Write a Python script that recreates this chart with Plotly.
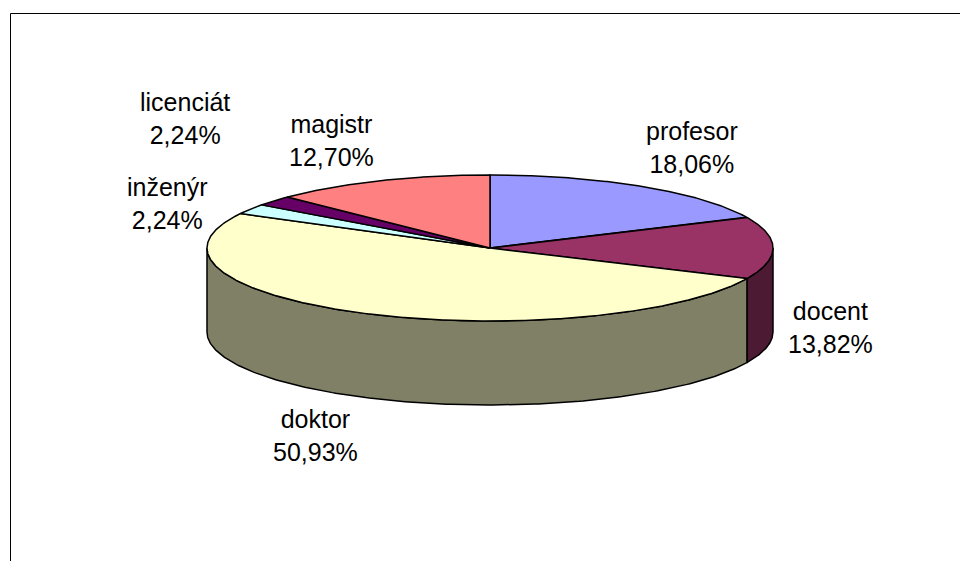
import numpy as np
import plotly.graph_objects as go

# ---- data ----
categories = ["profesor", "docent", "doktor", "inženýr", "licenciát", "magistr"]
values = [18.06, 13.82, 50.93, 2.24, 2.24, 12.70]
top_colors = ["#9999FF", "#993366", "#FFFFCC", "#CCFFFF", "#660066", "#FF8080"]
side_colors = ["#4D4D80", "#4D1A33", "#808066", "#668080", "#330033", "#804040"]

# label anchor positions (layout, pixel space)
label_x = [692, 830, 315, 167, 185, 331]
label_y = [147, 327, 435, 203, 118.5, 140]

# ---- geometry (pixel-like axes) ----
W, H = 960, 561
cx, cy, rx, ry, depth = 490, 248, 283, 73, 84


def pt(theta_deg, dy=0.0):
    t = np.radians(theta_deg)
    return cx + rx * np.sin(t), cy - ry * np.cos(t) + dy


fig = go.Figure()
total = sum(values)
angles = np.cumsum([0] + [v / total * 360 for v in values])

# side faces (front half: 90..270 deg)
for i in range(len(values)):
    a1, a2 = angles[i], angles[i + 1]
    s1, s2 = max(a1, 90), min(a2, 270)
    if s2 <= s1:
        continue
    th = np.linspace(s1, s2, 200)
    xt, yt = pt(th)
    xb, yb = pt(th[::-1], depth)
    xs = np.concatenate([xt, xb, xt[:1]])
    ys = np.concatenate([yt, yb, yt[:1]])
    fig.add_trace(go.Scatter(x=xs, y=ys, mode="lines", fill="toself",
                             fillcolor=side_colors[i],
                             line=dict(color="black", width=1.5),
                             hoverinfo="skip", showlegend=False))

# top faces
for i in range(len(values)):
    a1, a2 = angles[i], angles[i + 1]
    th = np.linspace(a1, a2, max(int((a2 - a1) * 3), 4))
    xa, ya = pt(th)
    xs = np.concatenate([[cx], xa, [cx]])
    ys = np.concatenate([[cy], ya, [cy]])
    fig.add_trace(go.Scatter(x=xs, y=ys, mode="lines", fill="toself",
                             fillcolor=top_colors[i],
                             line=dict(color="black", width=1.5),
                             hoverinfo="skip", showlegend=False))

# labels
for i, c in enumerate(categories):
    txt = f"{c}<br>{values[i]:.2f}%".replace(".", ",")
    fig.add_annotation(x=label_x[i], y=label_y[i], xref="x", yref="y",
                       text=txt, showarrow=False, xanchor="center",
                       yanchor="middle", align="center",
                       font=dict(family="Liberation Sans, Arial, sans-serif",
                                 size=25, color="black"))

# chart area border (extends beyond right/bottom edges)
fig.add_shape(type="rect", xref="x", yref="y", x0=10.5, y0=13.5, x1=990, y1=620,
              line=dict(color="black", width=1), fillcolor="rgba(0,0,0,0)",
              layer="above")

fig.update_layout(
    width=W, height=H,
    margin=dict(l=0, r=0, t=0, b=0),
    paper_bgcolor="white", plot_bgcolor="white",
    xaxis=dict(range=[0, W], visible=False, fixedrange=True),
    yaxis=dict(range=[H, 0], visible=False, fixedrange=True),
)

fig.write_html(
    "out.html",
    config={"displayModeBar": False},
    post_script="document.body.style.margin='0';document.body.style.overflow='hidden';",
)
